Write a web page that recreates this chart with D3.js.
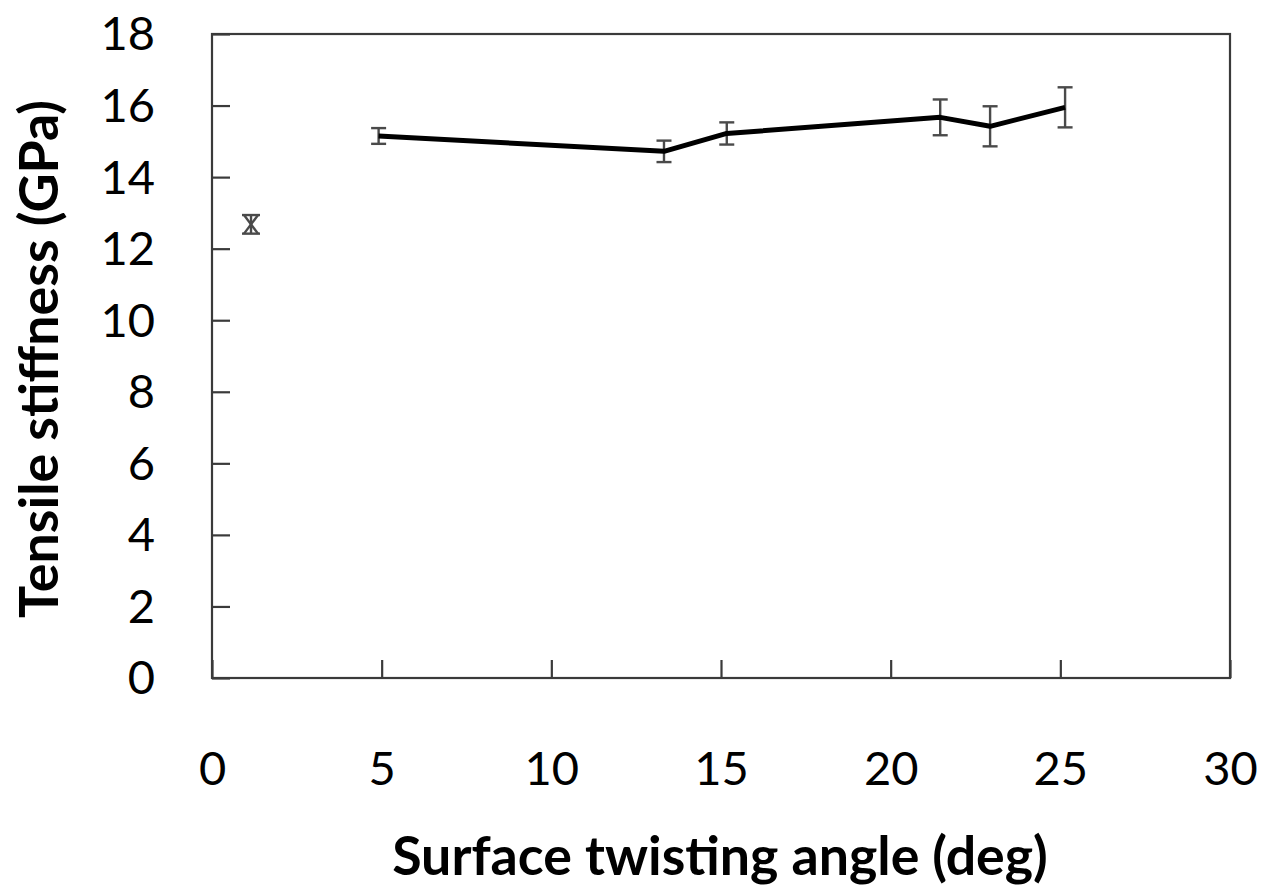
<!DOCTYPE html>
<html>
<head>
<meta charset="utf-8">
<script src="https://cdn.jsdelivr.net/npm/d3@7"></script>
<style>
  html, body { margin: 0; padding: 0; background: #fff; }
  svg { display: block; }
  text { font-family: Lato, "Open Sans", sans-serif; fill: #000; }
</style>
</head>
<body>
<svg id="chart" width="1264" height="890"></svg>
<script>
// Data
const angles    = [1.15, 4.91, 13.32, 15.17, 21.46, 22.93, 25.14];
const stiffness = [12.68, 15.15, 14.72, 15.22, 15.67, 15.42, 15.95];
const errors    = [0.26, 0.22, 0.30, 0.31, 0.50, 0.56, 0.56];
const connected = [false, true, true, true, true, true, true];
const xTicks = [0, 5, 10, 15, 20, 25, 30];
const yTicks = [0, 2, 4, 6, 8, 10, 12, 14, 16, 18];
const xTitle = "Surface twisting angle (deg)";
const yTitle = "Tensile stiffness (GPa)";

const svg = d3.select("#chart");
const L = 212, R = 1230, T = 34, B = 678;

const x = d3.scaleLinear().domain([0, 30]).range([L, R]);
const y = d3.scaleLinear().domain([0, 18]).range([B, T]);

const points = angles.map((a, i) => ({ a, v: stiffness[i], e: errors[i], c: connected[i] }));

// Frame
svg.append("rect").attr("x", L).attr("y", T).attr("width", R - L).attr("height", B - T)
  .attr("fill", "none").attr("stroke", "#3a3a3a").attr("stroke-width", 2.2);

// Y ticks (inward) + labels
const yAxis = d3.axisLeft(y).tickValues(yTicks).tickSize(-18).tickPadding(0).tickFormat(d3.format("d"));
const gy = svg.append("g").attr("transform", `translate(${L},0)`).call(yAxis);
gy.select(".domain").remove();
gy.selectAll(".tick line").attr("stroke", "#3a3a3a").attr("stroke-width", 2.2);
gy.selectAll(".tick text").attr("x", -57).attr("dy", "0.34em")
  .style("font-size", "47px").style("font-family", "Lato, 'Open Sans', sans-serif").attr("fill", "#000");

// X ticks (inward) + labels
const xAxis = d3.axisBottom(x).tickValues(xTicks).tickSize(-18).tickPadding(0).tickFormat(d3.format("d"));
const gx = svg.append("g").attr("transform", `translate(0,${B})`).call(xAxis);
gx.select(".domain").remove();
gx.selectAll(".tick line").attr("stroke", "#3a3a3a").attr("stroke-width", 2.2);
gx.selectAll(".tick text").attr("y", 107).attr("dy", null)
  .style("font-size", "47px").style("font-family", "Lato, 'Open Sans', sans-serif").attr("fill", "#000");

// Error bars
const eb = svg.append("g").attr("stroke", "#4a4a4a").attr("stroke-width", 2.4).attr("fill", "none");
points.forEach(p => {
  const capW = p.c ? 7.5 : 9;
  const cx = x(p.a), y1 = y(p.v + p.e), y2 = y(p.v - p.e);
  eb.append("line").attr("x1", cx).attr("x2", cx).attr("y1", y1).attr("y2", y2);
  eb.append("line").attr("x1", cx - capW).attr("x2", cx + capW).attr("y1", y1).attr("y2", y1);
  eb.append("line").attr("x1", cx - capW).attr("x2", cx + capW).attr("y1", y2).attr("y2", y2);
  if (!p.c) {
    eb.append("line").attr("x1", cx - capW + 2).attr("x2", cx + capW - 2).attr("y1", y1).attr("y2", y2);
    eb.append("line").attr("x1", cx + capW - 2).attr("x2", cx - capW + 2).attr("y1", y1).attr("y2", y2);
  }
});

// Line
const line = d3.line().x(d => x(d.a)).y(d => y(d.v));
svg.append("path").datum(points.filter(p => p.c)).attr("d", line)
  .attr("fill", "none").attr("stroke", "#000").attr("stroke-width", 5).attr("stroke-linejoin", "round");

// Axis titles
const xt = svg.append("text").attr("x", 720).attr("y", 875).attr("text-anchor", "middle")
  .style("font-size", "44px").style("font-weight", "bold").text(xTitle);
const yt = svg.append("text").attr("transform", "translate(58,359) rotate(-90)").attr("text-anchor", "middle")
  .style("font-size", "44px").style("font-weight", "bold").text(yTitle);

function fit(t, w) {
  const len = t.node().getComputedTextLength();
  const fs = parseFloat(t.style("font-size"));
  t.style("font-size", (fs * w / len).toFixed(1) + "px");
}
fit(xt, 656);
fit(yt, 518);
</script>
</body>
</html>
